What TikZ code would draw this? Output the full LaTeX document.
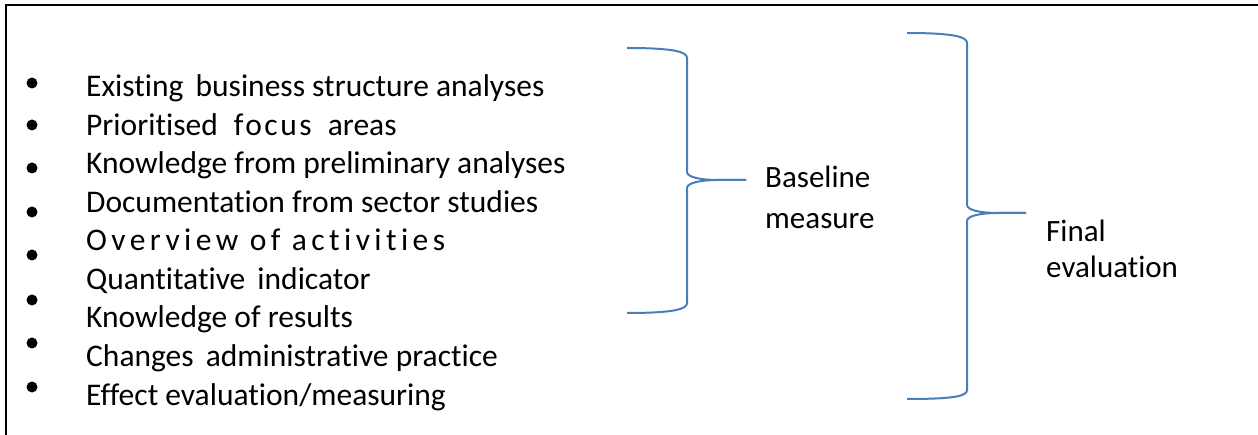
\documentclass[tikz,border=0pt]{standalone}
\usepackage{fontspec}
\setmainfont{Carlito}[Ligatures=NoCommon]
\definecolor{braceblue}{HTML}{4A7EBB}
\tikzset{
  listitem/.style={anchor=base west, inner sep=0pt, font=\fontsize{31.5}{36}\selectfont},
  sidetext/.style={anchor=base west, inner sep=0pt, align=left, font=\fontsize{31}{39}\selectfont},
  dot/.style={circle, fill, inner sep=0pt, minimum size=11pt},
  curly/.style={braceblue, line width=2pt}
}
\newcommand{\spaced}[2][8]{{\addfontfeature{LetterSpace=#1}#2}}

\begin{document}
\begin{tikzpicture}[x=1pt, y=-1pt]
\useasboundingbox (0,0) rectangle (1258,435);
% frame, runs off at the right and bottom
\draw [line width=2.5pt] (6,445) -- (6,5) -- (1270,5);
% bullets
\foreach \y [count=\i] in {83,125,168,212,255,300,343,387}
  \node [dot] (dot\i) at (32,\y) {};
% list
\foreach \txt [count=\i] in {Existing\hspace{5pt} business structure analyses,
    Prioritised\hspace{9pt} \spaced{focus}\hspace{9pt} areas,
    Knowledge from preliminary analyses,
    Documentation from sector studies,
    \spaced[14]{Overview of activities},
    Quantitative\hspace{5pt} indicator,
    Knowledge of results,
    Changes\hspace{5pt} administrative practice,
    Effect evaluation/measuring}
  \node [listitem] (item\i) at (86,{97+(\i-1)*38.5}) {\txt};
% braces
\coordinate (tipbase) at (746,180);
\coordinate (tipfinal) at (1026,213);
\draw [curly] (627,48) .. controls (675,48) and (687,52) .. (687,58) -- (687,172)
  .. controls (687,177) and (700,180) .. (718,180) -- (tipbase);
\draw [curly] (tipbase) -- (718,180) .. controls (700,180) and (687,183) .. (687,188)
  -- (687,303) .. controls (687,309) and (675,313) .. (627,313);
\draw [curly] (907,33) .. controls (955,33) and (967,37) .. (967,43) -- (967,205)
  .. controls (967,210) and (980,213) .. (998,213) -- (tipfinal);
\draw [curly] (tipfinal) -- (998,213) .. controls (980,213) and (967,216) .. (967,221)
  -- (967,390) .. controls (967,396) and (955,399) .. (907,399);
% the base anchor sits on the last line
\node [sidetext] (baseline) at (765,229) {Baseline\\[2pt]measure};
\node [sidetext] (final) at (1046,278) {Final\\[-3pt]evaluation};
\end{tikzpicture}
\end{document}
